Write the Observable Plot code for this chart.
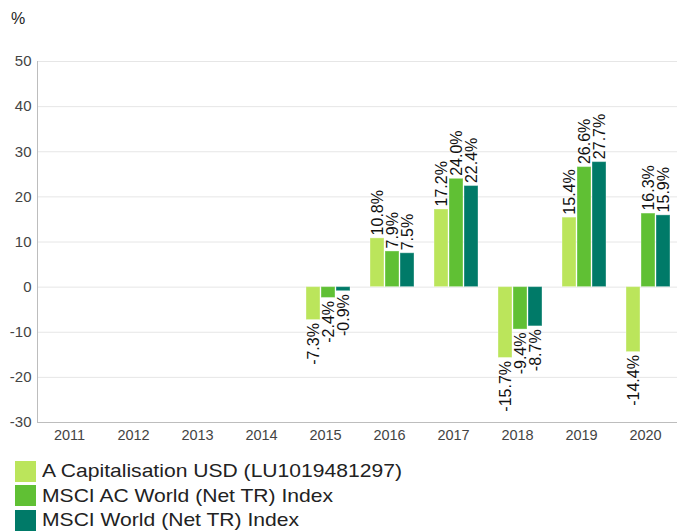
<!DOCTYPE html>
<html>
<head>
<meta charset="utf-8">
<script src="https://cdn.jsdelivr.net/npm/d3@7"></script>
<script src="https://cdn.jsdelivr.net/npm/@observablehq/plot@0.6"></script>
<style>
  body { margin: 0; background: #fff; font-family: "Liberation Sans", Arial, sans-serif; }
  #wrap { position: relative; width: 677px; height: 531px; overflow: hidden; }
  #unit { position: absolute; left: 11px; top: 10px; font-size: 16px; color: #222; }
  #chart { position: absolute; left: 0; top: 0; }
  #legend { position: absolute; left: 15px; top: 459px; }
  .item { display: flex; align-items: center; height: 24.5px; }
  .sw { width: 21px; height: 21px; flex: none; }
  .lbl { margin-left: 6px; font-size: 18.5px; color: #222; white-space: nowrap; transform: scaleX(1.14); transform-origin: left center; }
</style>
</head>
<body>
<div id="wrap">
  <div id="chart"></div>
  <div id="unit">%</div>
  <div id="legend"></div>
</div>
<script>
const years = [2011, 2012, 2013, 2014, 2015, 2016, 2017, 2018, 2019, 2020];
const series = ["A Capitalisation USD (LU1019481297)", "MSCI AC World (Net TR) Index", "MSCI World (Net TR) Index"];
const colors = ["#bbe55b", "#60c034", "#007a68"];
const fundValues = [null, null, null, null, -7.3, 10.8, 17.2, -15.7, 15.4, -14.4];
const acwiValues = [null, null, null, null, -2.4, 7.9, 24.0, -9.4, 26.6, 16.3];
const worldValues = [null, null, null, null, -0.9, 7.5, 22.4, -8.7, 27.7, 15.9];
const yTicks = [-30, -20, -10, 0, 10, 20, 30, 40, 50];

const seriesValues = [fundValues, acwiValues, worldValues];
const data = [];
years.forEach((yr, i) => {
  series.forEach((s, j) => data.push({year: yr, series: s, value: seriesValues[j][i]}));
});
const fmt = d => d.value.toFixed(1) + "%";
const pos = data.filter(d => d.value != null && d.value >= 0);
const neg = data.filter(d => d.value != null && d.value < 0);

const chart = Plot.plot({
  width: 677,
  height: 445,
  marginLeft: 37,
  marginRight: 0,
  marginTop: 61,
  marginBottom: 23,
  style: {fontFamily: "'Liberation Sans', Arial, sans-serif", color: "#444", background: "transparent"},
  fx: {domain: years, padding: 0, label: null, axis: null},
  x: {domain: series, paddingInner: 0.05, paddingOuter: 0.63, align: 0.64, axis: null},
  y: {domain: [-30, 50], ticks: yTicks, label: null, axis: null},
  color: {domain: series, range: colors},
  marks: [
    Plot.gridY(yTicks, {stroke: "#e6e6e6", strokeOpacity: 1}),
    Plot.ruleY([-30], {stroke: "#bdbdbd"}),
    Plot.frame({anchor: "left", facetAnchor: "left", stroke: "#bdbdbd"}),
    Plot.axisY({ticks: yTicks, tickFormat: d => String(d), tickSize: 0, tickPadding: 6, fontSize: 15, label: null}),
    Plot.axisFx({anchor: "bottom", tickFormat: d => String(d), tickSize: 0, tickPadding: 7, fontSize: 14.5, label: null}),
    Plot.barY(data, {fx: "year", x: "series", y: "value", fill: "series", stroke: "white", strokeOpacity: 0.35, strokeWidth: 1}),
    Plot.text(pos, {fx: "year", x: "series", y: "value", text: fmt, rotate: -90, textAnchor: "start", dy: -3, fontSize: 16, fill: "#111"}),
    Plot.text(neg, {fx: "year", x: "series", y: "value", text: fmt, rotate: -90, textAnchor: "end", dy: 3, fontSize: 16, fill: "#111"})
  ]
});
document.getElementById("chart").appendChild(chart);

const legend = document.getElementById("legend");
series.forEach((s, i) => {
  const item = document.createElement("div");
  item.className = "item";
  const sw = document.createElement("div");
  sw.className = "sw";
  sw.style.background = colors[i];
  const lbl = document.createElement("span");
  lbl.className = "lbl";
  lbl.textContent = s;
  item.appendChild(sw);
  item.appendChild(lbl);
  legend.appendChild(item);
});
</script>
</body>
</html>
